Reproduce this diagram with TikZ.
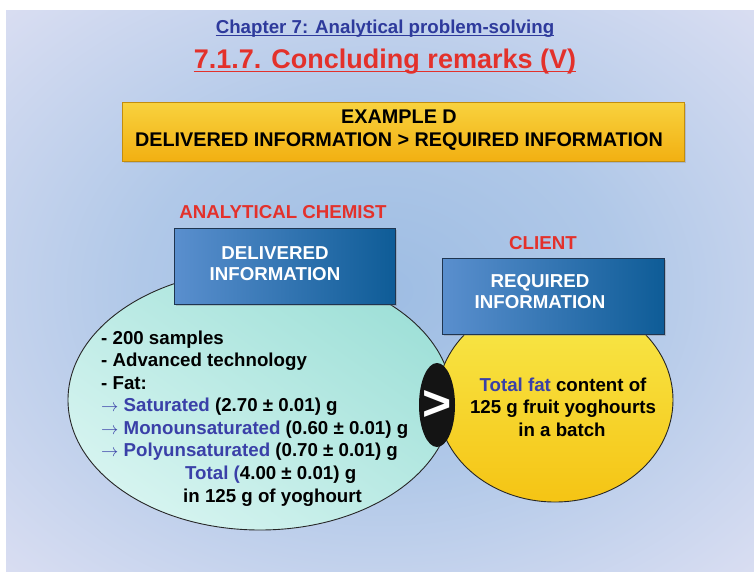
\documentclass[tikz,border=0pt]{standalone}
\usepackage{fontspec}
\setmainfont{Liberation Sans}
\usetikzlibrary{shapes.geometric,shadows}
\definecolor{chapblue}{HTML}{2E3A9C}
\definecolor{titlered}{HTML}{E3312B}
\definecolor{txtblue}{HTML}{3A40A8}
\definecolor{bgA}{HTML}{9EBDE3}
\definecolor{bgB}{HTML}{B0C8E8}
\definecolor{bgC}{HTML}{D6DCF1}
\definecolor{bgD}{HTML}{F5E8F8}
\definecolor{cyanA}{HTML}{9FE0D8}
\definecolor{cyanB}{HTML}{D6F4F0}
\definecolor{yelA}{HTML}{F8EA4C}
\definecolor{yelB}{HTML}{F5C414}
\definecolor{boxL}{HTML}{5A8FCE}
\definecolor{boxR}{HTML}{0E5C97}
\definecolor{boxedge}{HTML}{1F3550}
\definecolor{banA}{HTML}{F8D23E}
\definecolor{banB}{HTML}{F2B012}
\pgfdeclareradialshading{slidebg}{\pgfpoint{0bp}{0bp}}{color(0bp)=(bgA); color(16bp)=(bgB); color(34bp)=(bgC); color(50bp)=(bgD)}
\tikzset{
  body/.style={font=\bfseries\fontsize{18.7}{22}\selectfont, inner sep=0pt, anchor=base west},
  bodyc/.style={font=\bfseries\fontsize{18.7}{22}\selectfont, inner sep=0pt, anchor=base},
  role/.style={font=\bfseries\fontsize{18.7}{22}\selectfont, text=titlered, inner sep=0pt},
  infobox/.style={draw=boxedge, line width=0.8pt, left color=boxL, right color=boxR,
     drop shadow={shadow xshift=2pt, shadow yshift=-2pt, opacity=0.35}},
  boxtxt/.style={font=\bfseries\fontsize{18.7}{21.5}\selectfont, text=white, align=center, inner sep=0pt},
  bubble/.style={ellipse, draw=black!85, line width=0.9pt, inner sep=0pt},
}
\newcommand{\arr}{\textcolor{txtblue}{$\rightarrow$}\ }
\newcommand{\bl}[1]{\textcolor{txtblue}{#1}}
\begin{document}
\begin{tikzpicture}[x=1pt,y=-1pt]
\useasboundingbox (0,0) rectangle (754,571);
\fill[white] (0,0) rectangle (754,571);
\shade[shading=slidebg] (6,10) rectangle (754,571);
% titles
\node[font=\bfseries\fontsize{18.7}{21}\selectfont, text=chapblue, inner sep=0pt, anchor=base] (chap) at (385,33) {Chapter 7: Analytical problem-solving};
\draw[chapblue, line width=1pt] ([yshift=-2.5pt]chap.base west) -- ([yshift=-2.5pt]chap.base east);
\node[font=\bfseries\fontsize{27}{30}\selectfont, text=titlered, inner sep=0pt, anchor=base] (ttl) at (385,68) {7.1.7. Concluding remarks (V)};
\draw[titlered, line width=1.6pt] ([yshift=-3.5pt]ttl.base west) -- ([yshift=-3.5pt]ttl.base east);
% banner
\node[draw=banB!80!black, line width=0.5pt, top color=banA, bottom color=banB, minimum width=562pt, minimum height=59pt, inner sep=0pt,
  drop shadow={shadow xshift=1.5pt, shadow yshift=-1.5pt, opacity=0.3}] (ban) at (403,131.5) {};
\node[font=\bfseries\fontsize{19.8}{23.5}\selectfont, align=center, inner sep=0pt] (bantxt) at (399,130) {EXAMPLE D\\DELIVERED INFORMATION > REQUIRED INFORMATION};
% roles
\node[role] (chem) at (283,212) {ANALYTICAL CHEMIST};
\node[role] (cli) at (543,243) {CLIENT};
% bubbles
\node[bubble, minimum width=384pt, minimum height=260pt, top color=cyanA, bottom color=cyanB, shading angle=-35] (lbub) at (260,400) {};
\node[bubble, minimum width=236pt, minimum height=204pt, top color=yelA, bottom color=yelB] (rbub) at (555,400) {};
% info boxes
\node[infobox, minimum width=221pt, minimum height=76pt] (dbox) at (284.5,266) {};
\node[boxtxt] (dtxt) at (275,263.5) {DELIVERED\\INFORMATION};
\node[infobox, minimum width=222pt, minimum height=76pt] (rbox) at (553,296) {};
\node[boxtxt] (rtxt) at (540,291.5) {REQUIRED\\INFORMATION};
% comparison sign
\node[ellipse, fill=black!92, minimum width=36pt, minimum height=84pt, inner sep=0pt] (cmp) at (437,405) {};
\node[font=\bfseries\fontsize{50}{50}\selectfont, text=white, inner sep=0pt] (gt) at (cmp.center) {>};
% left text
\node[body] (l1) at (101,344) {- 200 samples};
\node[body] (l2) at (101,366) {- Advanced technology};
\node[body] (l3) at (101,389) {- Fat:};
\node[body] (l4) at (101,411) {\arr\bl{Saturated} (2.70 ± 0.01) g};
\node[body] (l5) at (101,434) {\arr\bl{Monounsaturated} (0.60 ± 0.01) g};
\node[body] (l6) at (101,456.5) {\arr\bl{Polyunsaturated} (0.70 ± 0.01) g};
\node[body] (l7) at (185,479) {\bl{Total (}4.00 ± 0.01) g};
\node[body] (l8) at (183,502) {in 125 g of yoghourt};
% right text
\node[bodyc] (r1) at (563,391) {\bl{Total fat} content of};
\node[bodyc] (r2) at (563,413.5) {125 g fruit yoghourts};
\node[bodyc] (r3) at (562,436) {in a batch};
\end{tikzpicture}
\end{document}
